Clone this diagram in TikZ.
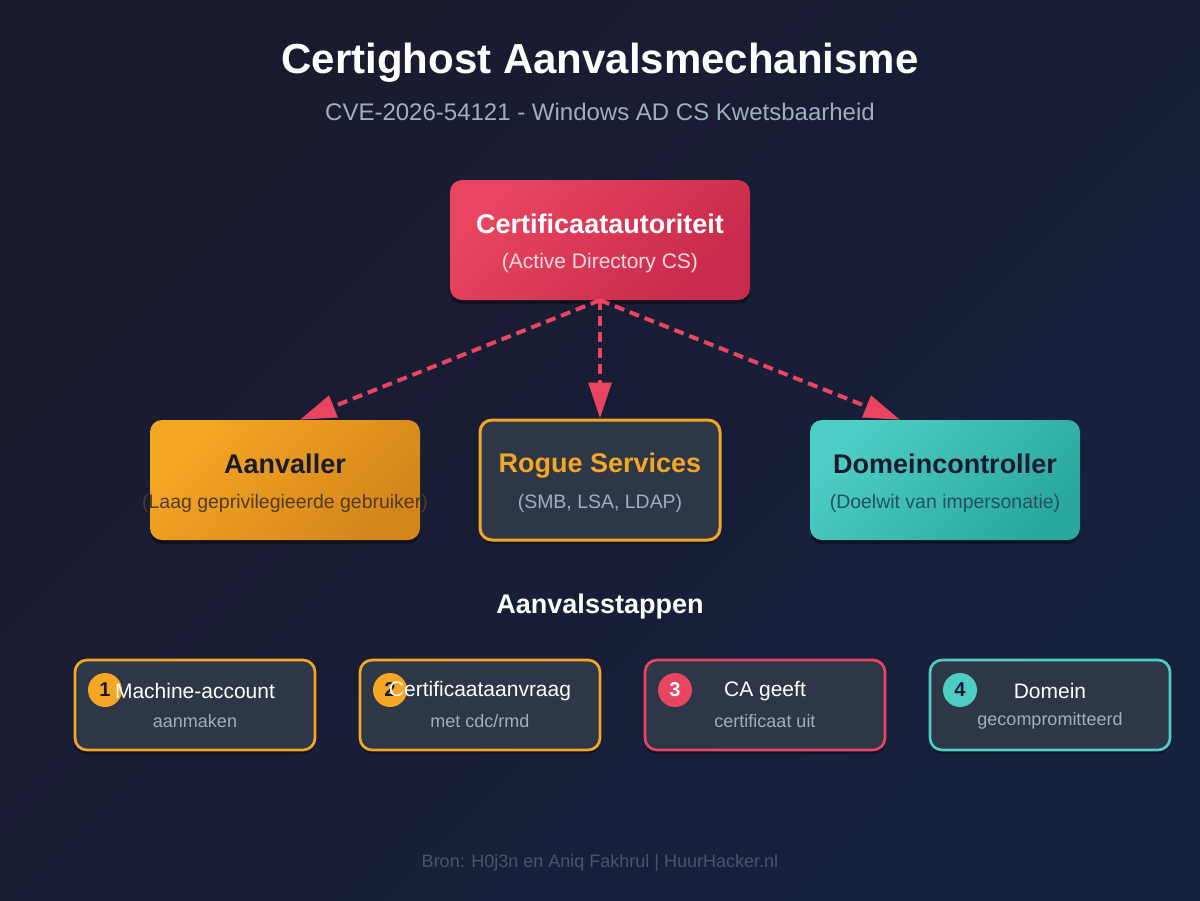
\documentclass[tikz,border=0pt]{standalone}
\usepackage{fontspec}
\setmainfont{Liberation Sans}
\usetikzlibrary{arrows.meta,positioning,calc,shadows}

\definecolor{bgtop}{HTML}{1A1A2E}
\definecolor{bgbottom}{HTML}{16213E}
\definecolor{carose}{HTML}{E94560}
\definecolor{carosedark}{HTML}{C72A4B}
\definecolor{attorange}{HTML}{F5A623}
\definecolor{attorangedark}{HTML}{D4861A}
\definecolor{dcteal}{HTML}{4ECDC4}
\definecolor{dctealdark}{HTML}{2BA89E}
\definecolor{slatebox}{HTML}{2D3748}
\definecolor{mutedtext}{HTML}{A0AEC0}
\definecolor{inktext}{HTML}{1A1A2E}
\definecolor{footgray}{HTML}{4A5568}

\tikzset{
  mainbox/.style={rounded corners=9pt, minimum height=90pt, inner sep=0pt,
    drop shadow={shadow xshift=0pt, shadow yshift=-3pt, opacity=0.35, fill=black}},
  stepbox/.style={rounded corners=9pt, minimum width=180pt, minimum height=67.5pt,
    inner sep=0pt, fill=slatebox, line width=2pt,
    drop shadow={shadow xshift=0pt, shadow yshift=-3pt, opacity=0.35, fill=black}},
  stepnum/.style={circle, minimum size=25.5pt, inner sep=0pt,
    font=\fontsize{15}{18}\selectfont\bfseries},
  boxtitle/.style={font=\fontsize{20.25}{24}\selectfont\bfseries},
  boxsub/.style={font=\fontsize{14.6}{18}\selectfont},
  steptitle/.style={font=\fontsize{15.75}{19}\selectfont, text=white},
  stepsub/.style={font=\fontsize{13.5}{16}\selectfont, text=mutedtext},
  flow/.style={draw=carose, line width=3pt, dash pattern=on 7.5pt off 4.5pt,
    -{Triangle[length=27pt,width=17pt]}}
}

\begin{document}
\begin{tikzpicture}[x=0.75pt, y=-0.75pt]

% Background
\fill[top color=bgtop, bottom color=bgbottom, shading angle=45] (0,0) rectangle (1200,900);
\useasboundingbox (0,0) rectangle (1200,900);

% Heading
\node (title) [font=\fontsize{31.5}{38}\selectfont\bfseries, text=white] at (600,63) {Certighost Aanvalsmechanisme};
\node (subtitle) [font=\fontsize{18}{22}\selectfont, text=mutedtext] at (600,112) {CVE-2026-54121 - Windows AD CS Kwetsbaarheid};

% Main components
\node (ca) [mainbox, minimum width=225pt, top color=carose, bottom color=carosedark, shading angle=45] at (600,240) {};
\node [boxtitle, text=white] at ($(ca)+(0,-16)$) {Certificaatautoriteit};
\node [boxsub, font=\fontsize{15.75}{19}\selectfont, text=white!80!carose] at ($(ca)+(0,23)$) {(Active Directory CS)};

\node (att) [mainbox, minimum width=202.5pt, top color=attorange, bottom color=attorangedark, shading angle=45] at (285,480) {};
\node [boxtitle, text=inktext] at ($(att)+(0,-16)$) {Aanvaller};
\node [boxsub, text=inktext!70!attorangedark] at ($(att)+(0,23)$) {(Laag geprivilegieerde gebruiker)};

\node (rogue) [mainbox, minimum width=180pt, fill=slatebox, draw=attorange, line width=2.25pt] at (600,480) {};
\node [boxtitle, text=attorange] at ($(rogue)+(0,-14)$) {Rogue Services};
\node [boxsub, text=mutedtext] at ($(rogue)+(0,23)$) {(SMB, LSA, LDAP)};

\node (dc) [mainbox, minimum width=202.5pt, top color=dcteal, bottom color=dctealdark, shading angle=45] at (945,480) {};
\node [boxtitle, text=inktext] at ($(dc)+(0,-16)$) {Domeincontroller};
\node [boxsub, text=inktext!60!dctealdark] at ($(dc)+(0,23)$) {(Doelwit van impersonatie)};

% Certificate flows
\draw [flow] (ca.south) -- ($(att.north)+(15,0)$);
\draw [flow] (ca.south) -- (rogue.north);
\draw [flow] (ca.south) -- ($(dc.north)+(-45,0)$);

% Attack steps
\node (stepshead) [font=\fontsize{20.25}{24}\selectfont\bfseries, text=white] at (600,607) {Aanvalsstappen};

\node (s1) [stepbox, draw=attorange] at (195,705) {};
\node (n1) [stepnum, fill=attorange, text=inktext] at ($(s1)+(-90,-15)$) {1};
\node [steptitle] at ($(s1)+(0,-14)$) {Machine-account};
\node [stepsub] at ($(s1)+(0,16)$) {aanmaken};

\node (s2) [stepbox, draw=attorange] at (480,705) {};
\node (n2) [stepnum, fill=attorange, text=inktext] at ($(s2)+(-90,-15)$) {2};
\node [steptitle] at ($(s2)+(0,-14)$) {Certificaataanvraag};
\node [stepsub] at ($(s2)+(0,16)$) {met cdc/rmd};

\node (s3) [stepbox, draw=carose] at (765,705) {};
\node (n3) [stepnum, fill=carose, text=white] at ($(s3)+(-90,-15)$) {3};
\node [steptitle] at ($(s3)+(0,-14)$) {CA geeft};
\node [stepsub] at ($(s3)+(0,16)$) {certificaat uit};

\node (s4) [stepbox, draw=dcteal] at (1050,705) {};
\node (n4) [stepnum, fill=dcteal, text=inktext] at ($(s4)+(-90,-15)$) {4};
\node [steptitle] at ($(s4)+(0,-14)$) {Domein};
\node [stepsub] at ($(s4)+(0,16)$) {gecompromitteerd};

% Footer
\node (footer) [font=\fontsize{13.5}{16}\selectfont, text=footgray] at (600,863) {Bron: H0j3n en Aniq Fakhrul | HuurHacker.nl};

\end{tikzpicture}
\end{document}
